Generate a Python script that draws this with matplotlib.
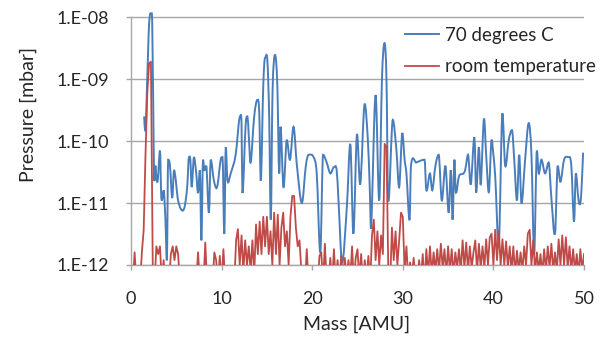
import numpy as np
import matplotlib
matplotlib.use("Agg")
import matplotlib.pyplot as plt
from matplotlib.path import Path
from matplotlib.patches import PathPatch

plt.rcParams['font.family'] = ['Lato', 'DejaVu Sans']

### 70 degrees C scan (mass [AMU], pressure [mbar])
blue_mass = [1.45, 1.55, 1.65, 1.95, 2.15, 2.3, 2.45, 2.55, 2.7, 2.8, 2.95, 3.2, 3.35, 3.6, 3.8,
             3.97, 4.1, 4.3, 4.55, 4.75, 4.95, 5.15, 5.55, 5.9, 6.2, 6.4, 6.55, 6.7, 6.95, 7.2,
             7.4, 7.6, 7.77, 7.95, 8.1, 8.3, 8.6, 8.8, 9.15, 9.5, 9.9, 10.1, 10.3, 10.46, 10.65,
             11.0, 11.55, 12.05, 12.2, 12.3, 12.65, 12.85, 13.0, 13.2, 13.6, 13.95, 14.15, 14.33,
             14.6, 14.8, 15.05, 15.25, 15.43, 15.62, 15.9, 16.15, 16.35, 16.5, 16.83, 17.2, 17.55,
             17.94, 18.3, 18.86, 19.3, 19.6, 20.15, 20.5, 20.9, 21.2, 21.6, 22.0, 22.4, 22.7, 22.9,
             23.3, 23.83, 24.2, 24.55, 24.95, 25.3, 25.8, 26.15, 26.35, 26.5, 27.0, 27.4, 27.7,
             27.98, 28.2, 28.38, 28.9, 29.3, 29.6, 29.95, 30.2, 30.4, 30.75, 30.9, 31.5, 32.4,
             32.6, 33.0, 33.25, 33.6, 33.96, 34.3, 34.7, 35.06, 35.3, 35.5, 35.7, 35.85, 36.2,
             36.7, 36.9, 37.2, 37.5, 37.9, 38.1, 38.4, 38.6, 38.97, 39.2, 39.5, 39.8, 40.0, 40.2,
             40.6, 41.0, 41.3, 41.7, 42.05, 42.3, 42.6, 42.85, 43.1, 43.5, 43.9, 44.2, 44.5, 44.8,
             45.0, 45.3, 45.7, 46.1, 46.4, 46.8, 47.1, 47.4, 47.8, 48.3, 48.6, 48.9, 49.1, 49.4,
             49.6, 49.75, 49.9]
blue_p = [2.5e-10, 1.5e-10, 2e-10, 5.5e-9, 1.15e-8, 1.15e-8, 4.6e-10, 2.6e-11, 4e-11, 2.6e-11,
          2.3e-11, 7e-11, 1.2e-11, 1.6e-11, 5.4e-12, 1.3e-12, 5e-11, 4e-11, 1.2e-11, 3.4e-11,
          2.3e-11, 1.2e-11, 7.8e-12, 8.5e-12, 1.8e-11, 5.5e-11, 5e-11, 1.8e-11, 5.5e-11, 3e-11,
          1.45e-11, 3.4e-11, 2.5e-12, 5e-11, 3.4e-11, 4e-11, 7e-12, 5e-11, 2.3e-11, 1.8e-11,
          5e-11, 5.5e-11, 3.2e-12, 8e-11, 2.3e-11, 3e-11, 6e-11, 2.5e-10, 1.9e-10, 1.45e-11,
          1.8e-10, 2.5e-10, 1.2e-10, 4.5e-11, 2.5e-10, 4.6e-10, 3e-10, 2.3e-11, 8e-10, 2.2e-9,
          2e-9, 2.5e-10, 5.4e-12, 6e-10, 2.45e-9, 8e-10, 3e-11, 1.7e-10, 1.8e-11, 1.05e-10,
          5e-11, 1.7e-10, 4.2e-11, 1e-11, 4e-11, 6e-11, 5.5e-11, 3e-11, 1.6e-12, 6e-11, 4.5e-11,
          3e-11, 3.8e-11, 3.4e-11, 1.1e-11, 1.1e-12, 9e-12, 9e-11, 3.2e-12, 1.3e-10, 2e-11,
          4e-10, 1e-10, 1.8e-11, 4e-12, 5.5e-10, 1.1e-11, 1e-9, 3.8e-9, 1e-9, 1.1e-11, 2.2e-10,
          7e-11, 1.8e-11, 1.35e-10, 5e-11, 3e-11, 5.4e-12, 4e-11, 4.5e-11, 5e-11, 1.6e-11,
          3e-11, 1.6e-11, 4e-11, 6e-11, 1.1e-11, 4e-11, 7e-12, 3.4e-11, 5.4e-12, 5e-11, 1.5e-11,
          2.7e-11, 3e-11, 3.5e-11, 6e-11, 2e-11, 1.15e-10, 1.5e-11, 8e-11, 2e-11, 2.3e-10,
          6e-11, 1.5e-11, 1.05e-10, 6e-11, 2.7e-11, 2.2e-12, 2.8e-10, 4e-11, 1.05e-10, 1.5e-10,
          5e-11, 1.1e-11, 6e-11, 1e-11, 5e-11, 1.95e-10, 6e-11, 1.5e-12, 7e-11, 3e-11, 5e-11,
          3e-11, 4.5e-11, 1.2e-11, 3.2e-12, 4e-11, 2.2e-11, 5e-11, 5.5e-11, 4e-11, 5e-12,
          3e-11, 1.1e-11, 1e-11, 2e-11, 6.5e-11]

### room temperature scan, 0.2 AMU steps, values in 1e-12 mbar (one row per AMU)
red_rows = [
    [0.5, 0.5, 1.6, 0.5, 0.5],
    [0.5, 1.6, 3.7, 60, 600],
    [1800, 1900, 1.0, 0.5, 2.0],
    [1.5, 2.0, 0.5, 1.2, 0.5],
    [0.5, 0.5, 1.5, 2.0, 1.2],
    [2.0, 1.5, 0.5, 0.5, 0.5],
    [0.5, 0.5, 0.5, 0.5, 0.5],
    [0.5, 0.5, 1.6, 0.5, 0.5],
    [0.5, 2.3, 0.5, 0.5, 0.5],
    [0.5, 1.6, 1.2, 0.5, 1.4],
    [0.5, 1.8, 0.5, 0.5, 0.5],
    [0.5, 0.5, 0.5, 2.5, 3.8],
    [1.0, 3.0, 0.8, 2.5, 1.0],
    [2.0, 0.8, 2.5, 0.7, 4.5],
    [1.5, 5.0, 1.5, 6.0, 2.0],
    [6.0, 1.5, 3.5, 1.0, 7.0],
    [1.5, 6.5, 1.0, 4.0, 7.0],
    [2.0, 3.5, 1.0, 6.0, 13],
    [13, 4.0, 2.0, 2.5, 0.8],
    [0.5, 0.5, 1.8, 0.5, 0.5],
    [0.5, 0.5, 0.5, 0.5, 1.4],
    [1.6, 0.5, 2.2, 0.5, 0.5],
    [1.3, 0.5, 1.8, 0.5, 1.2],
    [0.5, 1.4, 0.6, 1.3, 0.6],
    [1.2, 0.6, 2.0, 0.5, 1.3],
    [1.8, 0.6, 1.5, 0.5, 1.2],
    [0.6, 1.4, 0.5, 3.0, 5.4],
    [1.2, 3.5, 1.0, 3.0, 1.5],
    [90, 80, 0.8, 0.5, 4.0],
    [1.2, 3.5, 1.0, 2.5, 7.0],
    [6.0, 0.8, 2.0, 0.6, 1.1],
    [0.7, 1.3, 0.6, 0.5, 1.2],
    [0.6, 1.5, 0.5, 1.8, 0.7],
    [2.0, 0.7, 1.6, 0.8, 1.8],
    [0.8, 2.2, 0.9, 1.8, 0.7],
    [2.0, 0.8, 1.8, 0.7, 1.6],
    [0.9, 1.8, 0.8, 2.5, 0.9],
    [2.3, 0.8, 2.0, 0.9, 1.6],
    [2.5, 0.8, 2.2, 0.9, 2.0],
    [0.9, 2.6, 1.0, 2.8, 3.2],
    [1.0, 3.7, 1.2, 3.5, 1.0],
    [2.6, 1.0, 2.4, 0.9, 2.0],
    [0.8, 2.0, 0.7, 1.7, 0.8],
    [1.6, 0.8, 2.0, 1.0, 3.2],
    [3.7, 1.0, 2.5, 0.8, 1.6],
    [0.8, 1.5, 0.7, 1.8, 0.8],
    [2.0, 0.9, 2.2, 0.8, 1.6],
    [0.8, 2.6, 1.0, 3.0, 1.0],
    [2.8, 0.9, 2.0, 0.8, 1.8],
    [0.8, 1.5, 0.7, 1.8, 0.8],
]
red_last = 1.5

red_p = np.array([v for row in red_rows for v in row] + [red_last]) * 1e-12
red_mass = np.arange(len(red_p)) * 0.2

yticks = [1e-12, 1e-11, 1e-10, 1e-9, 1e-8]
ytick_labels = ["1.E-12", "1.E-11", "1.E-10", "1.E-09", "1.E-08"]
xticks = [0, 10, 20, 30, 40, 50]

txt = "#262626"
grid_c = "#a6a6a6"
blue_c = "#4a7ebb"
red_c = "#be4b48"


def smoothed_path(xs, ps):
    # Excel-like smoothed line: cubic Hermite through the points, in (x, log p) space
    x = np.asarray(xs, float)
    ly = np.log10(np.asarray(ps, float))
    n = len(x)
    slope = np.zeros(n)
    slope[1:-1] = (ly[2:] - ly[:-2]) / (x[2:] - x[:-2])
    slope[0] = (ly[1] - ly[0]) / (x[1] - x[0])
    slope[-1] = (ly[-1] - ly[-2]) / (x[-1] - x[-2])
    # flat tangents at local maxima so peaks don't overshoot
    for i in range(1, n - 1):
        if ly[i] >= ly[i - 1] and ly[i] >= ly[i + 1]:
            slope[i] = 0.0
    verts = [(x[0], ly[0])]
    codes = [Path.MOVETO]
    for i in range(n - 1):
        h = x[i + 1] - x[i]
        verts += [(x[i] + h / 3, ly[i] + slope[i] * h / 3),
                  (x[i + 1] - h / 3, ly[i + 1] - slope[i + 1] * h / 3),
                  (x[i + 1], ly[i + 1])]
        codes += [Path.CURVE4] * 3
    verts = [(vx, 10 ** vy) for vx, vy in verts]
    return Path(verts, codes)


fig = plt.figure(figsize=(6.04, 3.39), dpi=100)
ax = fig.add_axes([131/604, 1 - 265/339, 453/604, 255/339])

ax.set_yscale("log")
ax.set_ylim(1e-12, 1.3e-8)
ax.set_xlim(0, 50)

ax.add_patch(PathPatch(smoothed_path(blue_mass, blue_p), facecolor="none",
                       edgecolor=blue_c, lw=1.4, zorder=3))
ax.plot([], [], color=blue_c, lw=1.4, label="70 degrees C")
ax.plot(red_mass, red_p, color=red_c, lw=1.3, label="room temperature", zorder=4)

ax.set_yticks(yticks)
ax.set_yticklabels(ytick_labels)
ax.yaxis.set_minor_locator(matplotlib.ticker.NullLocator())
ax.set_xticks(xticks)

for y in yticks:
    ax.axhline(y, color=grid_c, lw=1.0, zorder=1)

for s in ["top", "right"]:
    ax.spines[s].set_visible(False)
for s in ["left", "bottom"]:
    ax.spines[s].set_color(grid_c)
    ax.spines[s].set_linewidth(1.0)
ax.spines["left"].set_bounds(1e-12, 1e-8)

ax.tick_params(axis="x", length=3.5, width=1, color=grid_c, pad=15, labelsize=13, labelcolor=txt)
ax.tick_params(axis="y", length=3.5, width=1, color=grid_c, pad=12, labelsize=13, labelcolor=txt)

fig.text(357/604, 1 - 324/339, "Mass [AMU]", ha="center", va="center", fontsize=14, color=txt)
fig.text(28/604, 1 - 115/339, "Pressure [mbar]", ha="center", va="center",
         rotation=90, fontsize=14, color=txt)

leg = ax.legend(loc="upper left", bbox_to_anchor=(405/604, 1 - 27/339),
                bbox_transform=fig.transFigure, frameon=False, fontsize=13.5,
                borderpad=0, borderaxespad=0, handlelength=1.8, handletextpad=0.35,
                labelspacing=0.75)
for t in leg.get_texts():
    t.set_color(txt)

fig.savefig("out.png", dpi=100)
